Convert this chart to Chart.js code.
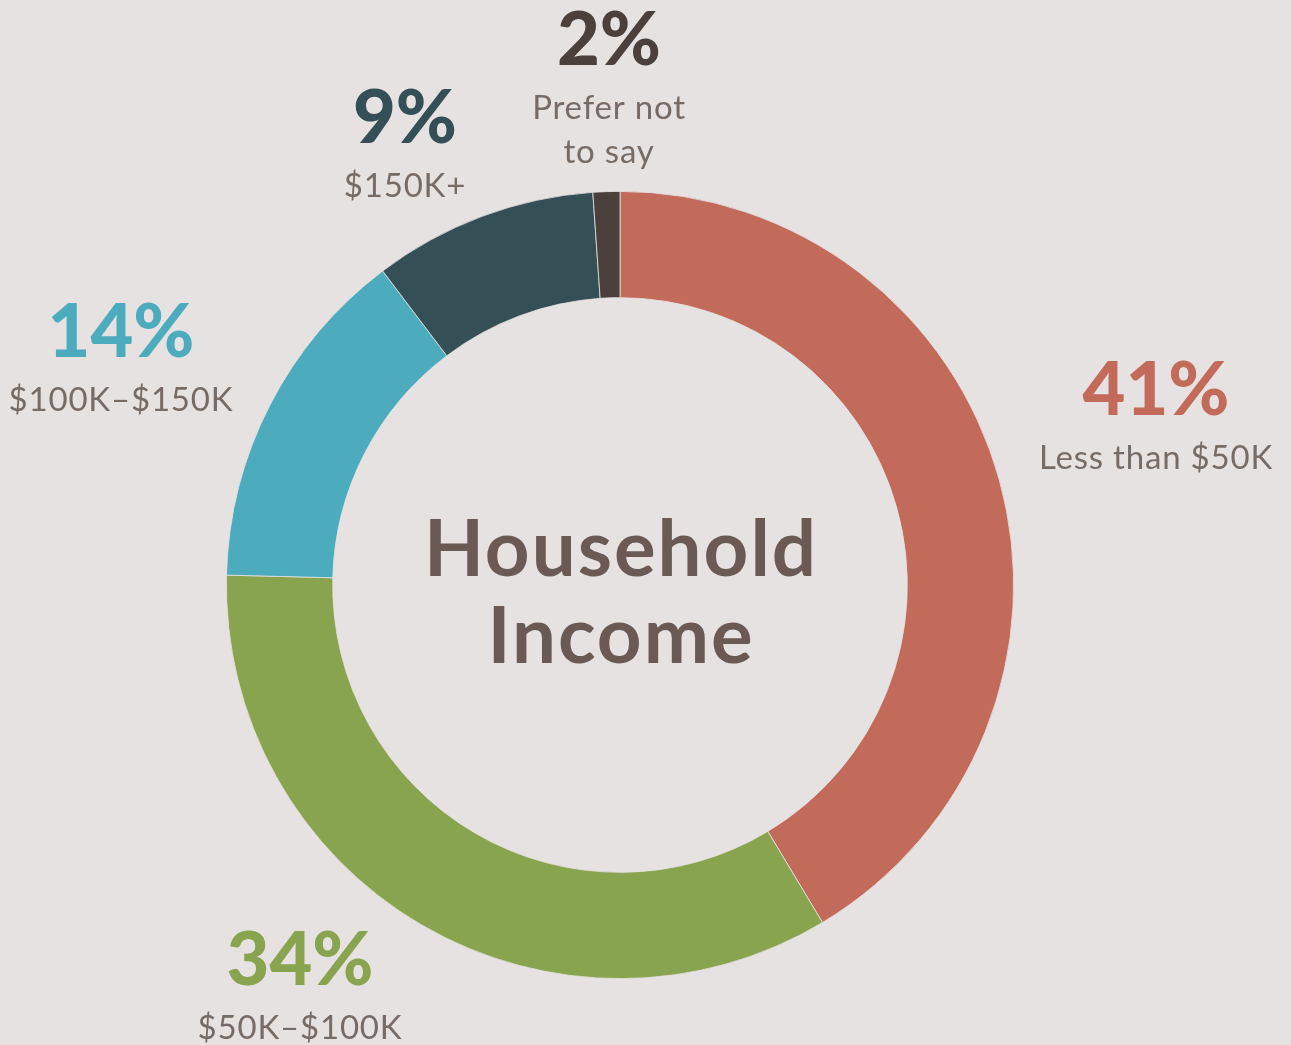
<!DOCTYPE html>
<html>
<head>
<meta charset="utf-8">
<title>Household Income</title>
<script src="https://cdn.jsdelivr.net/npm/chart.js@4.4.1/dist/chart.umd.min.js"></script>
<style>
  html, body { margin: 0; padding: 0; background: #e6e2e1; }
  #wrap { width: 1291px; height: 1045px; position: relative; }
</style>
</head>
<body>
<div id="wrap"><canvas id="incomeChart"></canvas></div>
<script>
// data, clockwise from 12 o'clock
const categories = ["Less than $50K", "$50K–$100K", "$100K–$150K", "$150K+", "Prefer not to say"];
const sliceValues = [41.4, 34, 14.3, 9.2, 1.1];      // measured from arc angles
const pctLabels = ["41%", "34%", "14%", "9%", "2%"]; // printed labels
const subLabels = [["Less than $50K"], ["$50K–$100K"], ["$100K–$150K"], ["$150K+"], ["Prefer not", "to say"]];
const colors = ["#c26b5b", "#88a44f", "#4cabbd", "#354f57", "#4b403b"];

Chart.defaults.font.family = "'Lato', sans-serif";

// label anchors relative to doughnut centre (dx, baseline dy of the % figure)
const labelSpots = [
  { dx: 536, dy: -170 },
  { dx: -320, dy: 400 },
  { dx: -499, dy: -228 },
  { dx: -215, dy: -442 },
  { dx: -11, dy: -520 },
];

const outsideLabels = {
  id: "outsideLabels",
  afterDraw(chart) {
    const { ctx } = chart;
    const arc0 = chart.getDatasetMeta(0).data[0];
    const cx = arc0.x, cy = arc0.y;
    ctx.save();
    ctx.textAlign = "center";
    ctx.textBaseline = "alphabetic";

    // centre title
    ctx.fillStyle = "#6b5a54";
    ctx.font = "bold 78px Lato";
    ctx.letterSpacing = "2px";
    ctx.fillText("Household", cx + 1, cy - 9);
    ctx.fillText("Income", cx + 1, cy + 78);

    pctLabels.forEach((txt, i) => {
      const p = labelSpots[i];
      const x = cx + p.dx, y = cy + p.dy;
      ctx.fillStyle = colors[i];
      ctx.font = "900 74px Lato";
      ctx.letterSpacing = "0px";
      ctx.fillText(txt, x, y);
      ctx.fillStyle = "#776b66";
      ctx.font = "400 33px Lato";
      ctx.letterSpacing = "0.8px";
      subLabels[i].forEach((line, j) => {
        ctx.fillText(line, x, y + 54 + j * 44);
      });
    });
    ctx.restore();
  }
};

const ctx = document.getElementById("incomeChart").getContext("2d");
const incomeChart = new Chart(ctx, {
  type: "doughnut",
  data: {
    labels: categories,
    datasets: [{
      data: sliceValues,
      backgroundColor: colors,
      borderColor: "#e6e2e1",
      borderWidth: 0.8,
    }],
  },
  options: {
    responsive: true,
    maintainAspectRatio: false,
    animation: false,
    cutout: "73%",
    layout: { padding: { left: 226, right: 277, top: 191, bottom: 66 } },
    plugins: {
      legend: { display: false },
      tooltip: { enabled: false },
    },
  },
  plugins: [outsideLabels],
});
</script>
</body>
</html>
